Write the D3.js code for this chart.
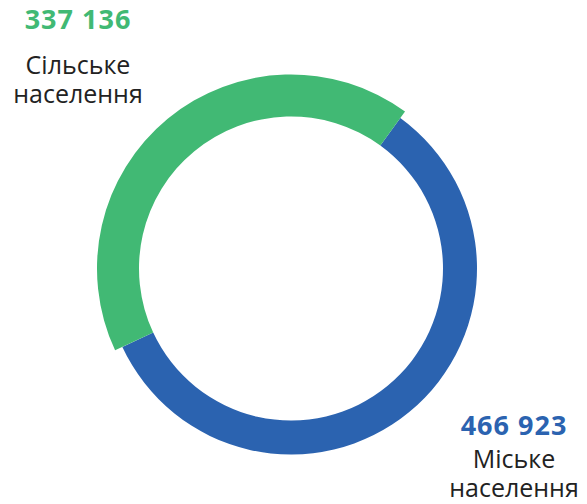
<!DOCTYPE html>
<html>
<head>
<meta charset="utf-8">
<script src="https://cdn.jsdelivr.net/npm/d3@7"></script>
<style>
  body { margin: 0; background: #fff; }
  text { font-family: "Open Sans", sans-serif; }
</style>
</head>
<body>
<script>
// population split
var categories = ["Міське населення", "Сільське населення"];
var values = [466923, 337136];
var valueLabels = ["466 923", "337 136"];
var labelLines = [["Міське", "населення"], ["Сільське", "населення"]];
var colors = ["#2b63b0", "#41b974"];

var width = 587, height = 504;
var cx = 291, cy = 268.5, inner = 152;
var outerR = [186, 194]; // green ring is a bit thicker

var svg = d3.select("body").append("svg")
    .attr("width", width)
    .attr("height", height);

var start = 36 * Math.PI / 180;
var pie = d3.pie().sort(null).value(function(d) { return d; })
    .startAngle(start).endAngle(start + 2 * Math.PI);

var arcs = pie(values);

var g = svg.append("g").attr("transform", "translate(" + cx + "," + cy + ")");
g.selectAll("path")
  .data(arcs)
  .enter()
  .append("path")
  .attr("d", function(d, i) { return d3.arc().innerRadius(inner).outerRadius(outerR[i])(d); })
  .attr("fill", function(d, i) { return colors[i]; });

// label x center, number baseline, text line baselines
var labelX = [514, 78];
var numY = [435, 29];
var lineY = [[468, 497], [74, 103]];

var lab = svg.selectAll("g.lab")
  .data(categories)
  .enter()
  .append("g")
  .attr("class", "lab");

lab.append("text")
  .attr("x", function(d, i) { return labelX[i]; })
  .attr("y", function(d, i) { return numY[i]; })
  .attr("text-anchor", "middle")
  .attr("font-size", 27)
  .attr("font-weight", 700)
  .attr("letter-spacing", 1)
  .attr("fill", function(d, i) { return colors[i]; })
  .text(function(d, i) { return valueLabels[i]; });

lab.each(function(d, i) {
  var sel = d3.select(this);
  labelLines[i].forEach(function(line, k) {
    sel.append("text")
      .attr("x", labelX[i])
      .attr("y", lineY[i][k])
      .attr("text-anchor", "middle")
      .attr("font-size", 25)
      .attr("fill", "#222")
      .text(line);
  });
});
</script>
</body>
</html>
